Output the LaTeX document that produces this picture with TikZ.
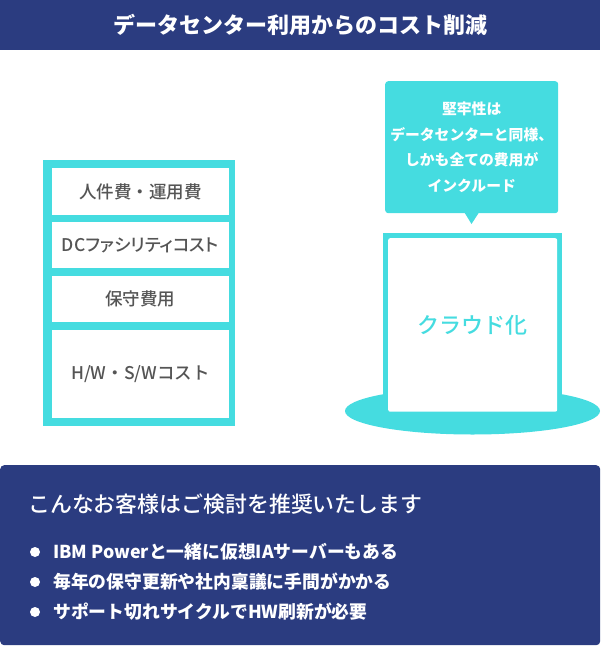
\documentclass[tikz,border=0pt]{standalone}
\usepackage{fontspec}
\setmainfont{Noto Sans CJK JP}
\newfontfamily\jpmed{Noto Sans CJK JP Medium}
\definecolor{navy}{HTML}{2B3C80}
\definecolor{cyanc}{HTML}{45DCE0}
\definecolor{txtgray}{HTML}{555555}
\begin{document}
\begin{tikzpicture}[x=1pt,y=-1pt,
  costbox/.style={fill=white, draw=none, minimum width=177.5pt, inner sep=0pt, anchor=north west,
    text=txtgray, font=\jpmed\fontsize{17.5}{20}\selectfont},
  bullettxt/.style={anchor=west, inner sep=0pt, text=white, font=\bfseries\fontsize{17.8}{20}\selectfont},
  dot/.style={circle, fill=white, minimum size=10pt, inner sep=0pt}]
\useasboundingbox (0,0) rectangle (600,647);
% top banner
\node[fill=navy, minimum width=600pt, minimum height=50pt, inner sep=0pt, anchor=north west,
  text=white, font=\bfseries\fontsize{22}{24}\selectfont] (title) at (0,0) {データセンター利用からのコスト削減};
% left stack
\node[fill=cyanc, minimum width=192pt, minimum height=266pt, inner sep=0pt, anchor=north west] (stack) at (43,160) {};
\node[costbox, minimum height=47pt] (c1) at (51.5,168) {人件費・運用費};
\node[costbox, minimum height=46pt] (c2) at (51.5,222) {\addfontfeatures{RawFeature=+palt}DCファシリティコスト};
\node[costbox, minimum height=46pt] (c3) at (51.5,276) {保守費用};
\node[costbox, minimum height=88pt] (c4) at (51.5,330) {H/W・S/Wコスト};
% cloud
\fill[cyanc] (472.5,411) ellipse [x radius=127.5, y radius=23.5];
\node[fill=cyanc, minimum width=179pt, minimum height=183pt, inner sep=0pt, anchor=north west] (cloudouter) at (383,233) {};
\node[fill=white, rounded corners=2pt, minimum width=169pt, minimum height=173.5pt, inner sep=0pt, anchor=north west,
  text=cyanc, font=\jpmed\fontsize{22}{24}\selectfont] (cloud) at (388,238) {クラウド化};
% callout
\node[fill=cyanc, rounded corners=3pt, minimum width=173pt, minimum height=132pt, inner sep=0pt, anchor=north west,
  align=center, text=white, font=\bfseries\fontsize{14.8}{25.5}\selectfont] (callout) at (385,81)
  {堅牢性は\\データセンターと同様、\\しかも全ての費用が\\インクルード};
\coordinate (tip) at (471.5,224);
\fill[cyanc] ([xshift=-7pt,yshift=0.5pt]callout.south) -- (tip) -- ([xshift=7pt,yshift=0.5pt]callout.south) -- cycle;
% bottom box
\node[fill=navy, rounded corners=4pt, minimum width=600pt, minimum height=180pt, inner sep=0pt, anchor=north west] (bottom) at (0,465) {};
\node[anchor=west, inner sep=0pt, text=white, font=\jpmed\fontsize{21.9}{24}\selectfont] (head) at (28,504) {こんなお客様はご検討を推奨いたします};
\node[dot] (d1) at (35,552) {};
\node[dot] (d2) at (35,582) {};
\node[dot] (d3) at (35,612) {};
\node[bullettxt] (b1) at (53,552) {IBM Powerと一緒に仮想IAサーバーもある};
\node[bullettxt] (b2) at (53,582) {毎年の保守更新や社内稟議に手間がかかる};
\node[bullettxt] (b3) at (53,612) {サポート切れサイクルでHW刷新が必要};
\end{tikzpicture}
\end{document}
